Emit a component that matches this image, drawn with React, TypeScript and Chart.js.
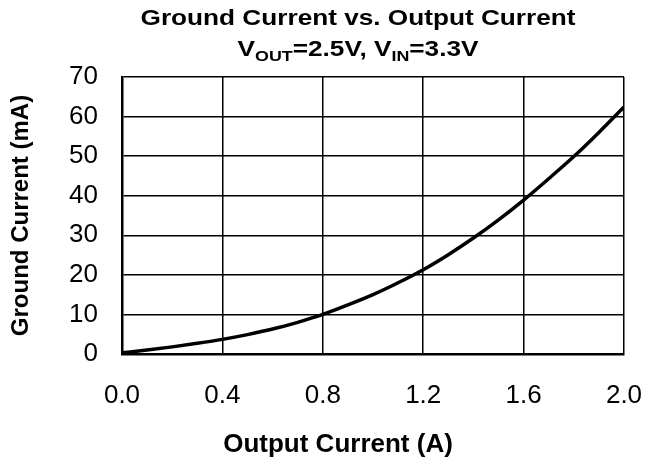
import React, { useEffect, useRef } from "react";
import { Chart, registerables } from "chart.js";

Chart.register(...registerables);

const xValues = [0, 0.1, 0.2, 0.3, 0.4, 0.5, 0.6, 0.7, 0.8, 0.9, 1.0, 1.1, 1.2, 1.3, 1.4, 1.5, 1.6, 1.7, 1.8, 1.9, 2.0];
const groundCurrent = [0.3, 1.0, 1.8, 2.7, 3.7, 4.9, 6.3, 8.0, 10.0, 12.4, 15.0, 18.0, 21.3, 25.1, 29.3, 33.9, 38.9, 44.3, 49.9, 56.0, 62.4];

const titleLine1 = "Ground Current vs. Output Current";
const titleLine2Parts: { text: string; sub: boolean }[] = [
  { text: "V", sub: false },
  { text: "OUT", sub: true },
  { text: "=2.5V, V", sub: false },
  { text: "IN", sub: true },
  { text: "=3.3V", sub: false },
];
const xAxisTitle = "Output Current (A)";
const yAxisTitle = "Ground Current (mA)";

const FONT = "'Liberation Sans', Arial, sans-serif";
const STRETCH = 1.19;

const titlePlugin = {
  id: "subTitle",
  afterDraw(chart: any) {
    const ctx = chart.ctx;
    const cx = 358;
    ctx.save();
    ctx.fillStyle = "#000";
    ctx.textBaseline = "alphabetic";
    ctx.textAlign = "left";
    const mainFont = `bold 22px ${FONT}`;
    const subFont = `bold 15px ${FONT}`;
    ctx.font = mainFont;
    const w1 = ctx.measureText(titleLine1).width * STRETCH;
    ctx.save();
    ctx.translate(cx - w1 / 2, 25);
    ctx.scale(STRETCH, 1);
    ctx.fillText(titleLine1, 0, 0);
    ctx.restore();
    let total = 0;
    for (const p of titleLine2Parts) {
      ctx.font = p.sub ? subFont : mainFont;
      total += ctx.measureText(p.text).width * STRETCH;
    }
    let x = cx - total / 2;
    for (const p of titleLine2Parts) {
      ctx.font = p.sub ? subFont : mainFont;
      ctx.save();
      ctx.translate(x, p.sub ? 61 : 56);
      ctx.scale(STRETCH, 1);
      ctx.fillText(p.text, 0, 0);
      ctx.restore();
      x += ctx.measureText(p.text).width * STRETCH;
    }
    // x-axis title
    ctx.font = `bold 26px ${FONT}`;
    ctx.textAlign = "center";
    ctx.fillText(xAxisTitle, 338, 452);
    ctx.restore();
  },
};

export default function App() {
  const ref = useRef<HTMLCanvasElement>(null);
  useEffect(() => {
    document.body.style.margin = "0";
    const chart = new Chart(ref.current!, {
      type: "scatter",
      data: {
        datasets: [
          {
            data: xValues.map((x, i) => ({ x, y: groundCurrent[i] })),
            showLine: true,
            borderColor: "#000",
            backgroundColor: "#000",
            borderWidth: 3.5,
            pointRadius: 0,
            cubicInterpolationMode: "monotone",
          },
        ],
      },
      plugins: [titlePlugin],
      options: {
        animation: false,
        responsive: false,
        layout: { padding: { top: 77, right: 22, left: 0, bottom: 0 } },
        plugins: { legend: { display: false }, tooltip: { enabled: false }, title: { display: false } },
        scales: {
          x: {
            type: "linear",
            min: 0,
            max: 2,
            afterFit: (s: any) => {
              s.height = 461 - 354;
              s.paddingLeft = 0;
              s.paddingRight = 0;
            },
            ticks: {
              stepSize: 0.4,
              color: "#000",
              font: { family: FONT, size: 26 },
              padding: 26,
              callback: (v: any) => Number(v).toFixed(1),
            },
            grid: { color: "#000", lineWidth: 1.5, drawTicks: false },
            border: { color: "#000", width: 2.5 },
            title: { display: false },
          },
          y: {
            min: 0,
            max: 70,
            afterFit: (s: any) => {
              s.width = 122;
              s.paddingTop = 0;
              s.paddingBottom = 0;
            },
            ticks: {
              stepSize: 10,
              color: "#000",
              font: { family: FONT, size: 26 },
              padding: 24,
            },
            grid: { color: "#000", lineWidth: 1.5, drawTicks: false },
            border: { color: "#000", width: 2.5 },
            title: {
              display: true,
              text: yAxisTitle,
              color: "#000",
              font: { family: FONT, size: 24, weight: "bold" },
              padding: { top: 7, bottom: 0 },
            },
          },
        },
      },
    });
    return () => chart.destroy();
  }, []);
  return (
    <div style={{ width: 646, height: 461, background: "#fff" }}>
      <canvas ref={ref} width={646} height={461} style={{ display: "block" }} />
    </div>
  );
}
